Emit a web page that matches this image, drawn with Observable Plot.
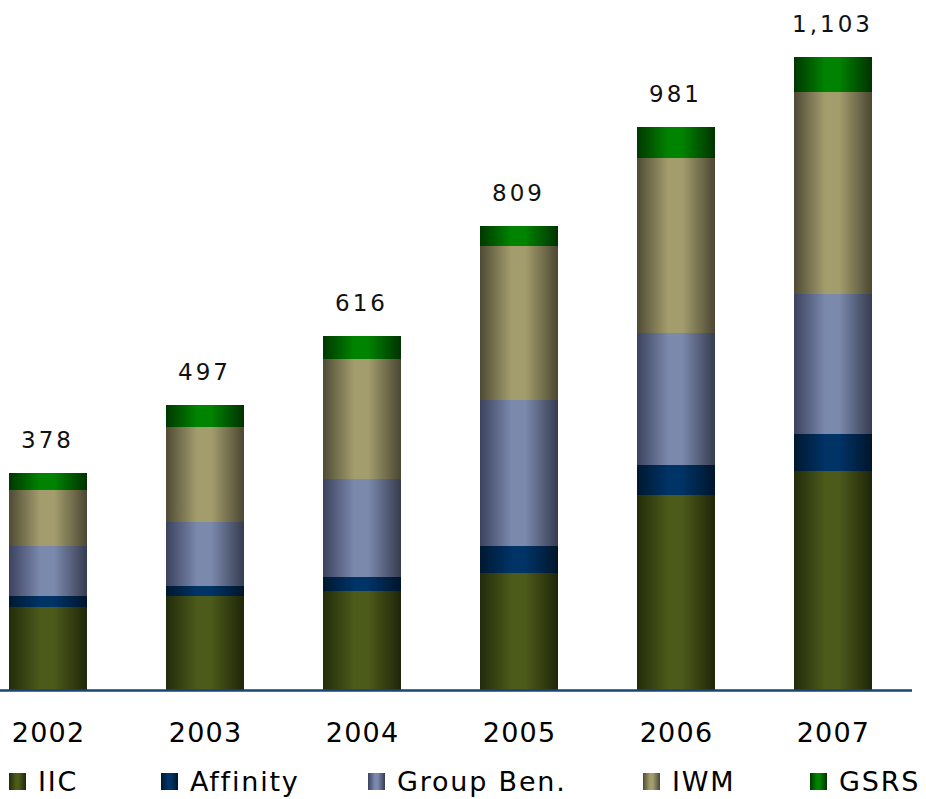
<!DOCTYPE html>
<html>
<head>
<meta charset="utf-8">
<script src="https://cdn.jsdelivr.net/npm/d3@7"></script>
<script src="https://cdn.jsdelivr.net/npm/@observablehq/plot@0.6"></script>
<style>
  html, body { margin: 0; padding: 0; background: #fff; overflow: hidden; }
  #wrap { position: relative; width: 926px; height: 799px; font-family: "DejaVu Sans", Verdana, sans-serif; }
  #chart svg { display: block; }
  g[aria-label="x-axis tick label"] text { letter-spacing: 1.2px; }
  g[aria-label="text"] text { letter-spacing: 3px; }
  #legend { position: absolute; left: 0; top: 755px; width: 926px; height: 44px; }
  .item { position: absolute; top: 0; height: 44px; }
  .sw { position: absolute; top: 18px; left: 0; width: 17px; height: 17px; }
  .lab { position: absolute; top: 13px; left: 29px; font-size: 27px; line-height: 27px; letter-spacing: 1.8px; color: #000; white-space: nowrap; }
</style>
</head>
<body>
<div id="wrap">
  <div id="chart"></div>
  <div id="legend"></div>
</div>
<script>
// ---- data ----
const years = ["2002", "2003", "2004", "2005", "2006", "2007"];
const series = ["IIC", "Affinity", "Group Ben.", "IWM", "GSRS"];
const iic      = [145, 164, 173, 204, 340, 382];
const affinity = [19, 17, 23, 47, 52, 64];
const groupBen = [87, 112, 171, 254, 230, 244];
const iwm      = [98, 165, 209, 268, 304, 352];
const gsrs     = [29, 39, 40, 36, 55, 61];
const totals   = [378, 497, 616, 809, 981, 1103];

// ---- styles (cylinder gradients: edge, highlight, edge) ----
const gradients = [
  ["#222c0b", "#4c5a1a", "#1f2609"],   // IIC
  ["#001830", "#003366", "#00152b"],   // Affinity
  ["#3b425e", "#7b89ad", "#363c50"],   // Group Ben.
  ["#4f4b35", "#a39d6d", "#4b4732"],   // IWM
  ["#003800", "#008300", "#003200"]    // GSRS
];
const legendLefts = [9, 161, 368, 643, 810];

// ---- build table ----
const valuesBySeries = [iic, affinity, groupBen, iwm, gsrs];
const rows = [];
years.forEach((y, i) => {
  series.forEach((s, j) => rows.push({year: y, series: s, value: valuesBySeries[j][i]}));
});
const totalRows = years.map((y, i) => ({year: y, total: totals[i]}));

const svg = Plot.plot({
  width: 926,
  height: 755,
  marginLeft: 9,
  marginRight: 54,
  marginTop: 1.2,
  marginBottom: 65,
  style: {fontFamily: "DejaVu Sans, Verdana, sans-serif", color: "#000", background: "#fff"},
  x: {type: "band", domain: years, paddingInner: 0.503, paddingOuter: 0, round: false},
  y: {domain: [0, 1200], axis: null},
  color: {type: "ordinal", domain: series, range: series.map((s, i) => `url(#grad${i})`)},
  marks: [
    Plot.barY(rows, Plot.stackY({x: "year", y: "value", fill: "series", shapeRendering: "crispEdges"})),
    Plot.ruleY([0], {stroke: "#1a4474", strokeWidth: 2.5, insetLeft: -9, insetRight: -40}),
    Plot.text(totalRows, {x: "year", y: "total", text: d => d3.format(",")(d.total), dy: -33, dx: -1, fontSize: 23, fill: "#111"}),
    Plot.axisX({tickSize: 0, tickPadding: 32.5, fontSize: 27, label: null, fill: "#000"})
  ]
});

const defs = d3.select(svg).insert("defs", ":first-child");
gradients.forEach((c, i) => {
  const g = defs.append("linearGradient").attr("id", `grad${i}`)
    .attr("x1", 0).attr("x2", 1).attr("y1", 0).attr("y2", 0);
  g.append("stop").attr("offset", "0%").attr("stop-color", c[0]);
  g.append("stop").attr("offset", "40%").attr("stop-color", c[1]);
  g.append("stop").attr("offset", "58%").attr("stop-color", c[1]);
  g.append("stop").attr("offset", "100%").attr("stop-color", c[2]);
});
document.getElementById("chart").appendChild(svg);

// ---- legend ----
const legend = d3.select("#legend");
series.forEach((s, i) => {
  const c = gradients[i];
  const item = legend.append("div").attr("class", "item").style("left", legendLefts[i] + "px");
  item.append("div").attr("class", "sw")
    .style("background", `linear-gradient(to right, ${c[0]} 0%, ${c[1]} 40%, ${c[1]} 58%, ${c[2]} 100%)`);
  item.append("div").attr("class", "lab").text(s);
});
</script>
</body>
</html>
